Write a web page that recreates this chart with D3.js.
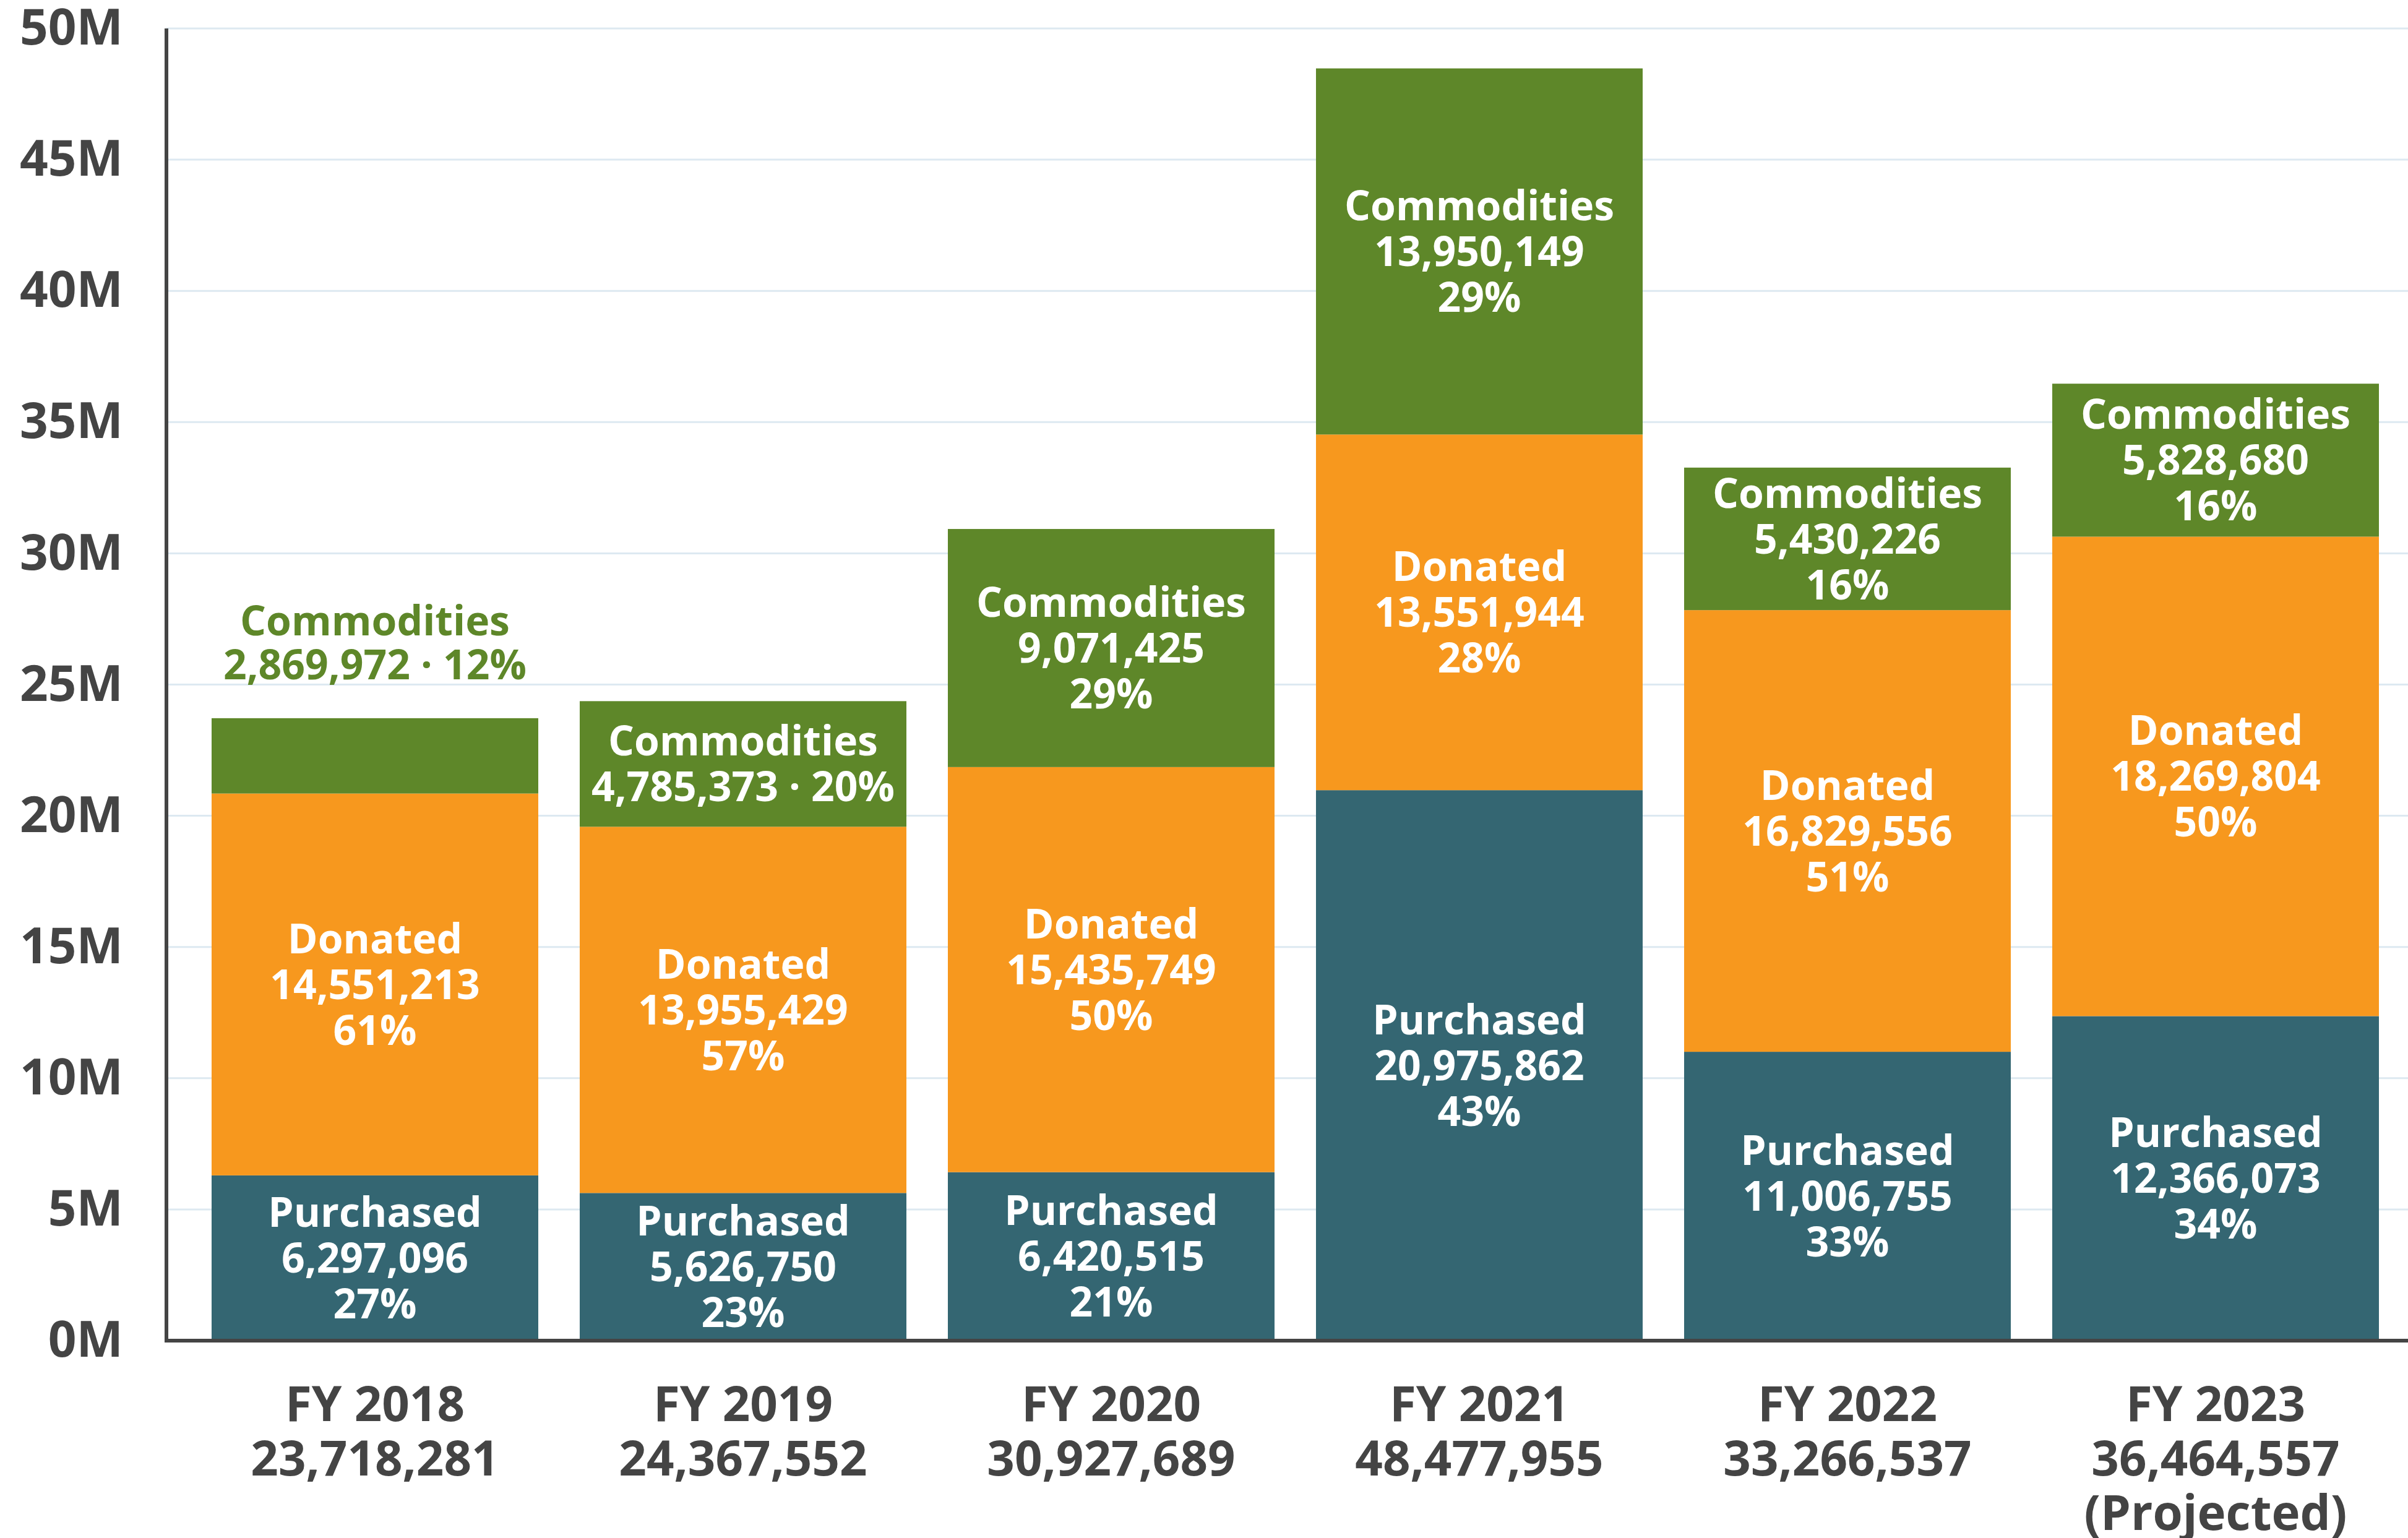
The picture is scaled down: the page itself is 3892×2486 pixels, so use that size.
<!DOCTYPE html>
<html>
<head>
<meta charset="utf-8">
<script src="https://cdn.jsdelivr.net/npm/d3@7"></script>
<style>
  html, body { margin: 0; padding: 0; background: #ffffff; }
  svg { display: block; }
  text { font-family: "Open Sans", "Noto Sans", sans-serif; font-weight: 700; }
</style>
</head>
<body>
<svg id="chart"></svg>
<script>
// ---- data ----
const years = ["FY 2018", "FY 2019", "FY 2020", "FY 2021", "FY 2022", "FY 2023"];
const yearNotes = ["", "", "", "", "", "(Projected)"];
const seriesNames = ["Purchased", "Donated", "Commodities"];
const purchased = [6297096, 5626750, 6420515, 20975862, 11006755, 12366073];
const donated = [14551213, 13955429, 15435749, 13551944, 16829556, 18269804];
const commodities = [2869972, 4785373, 9071425, 13950149, 5430226, 5828680];
const purchasedPct = [27, 23, 21, 43, 33, 34];
const donatedPct = [61, 57, 50, 28, 51, 50];
const commoditiesPct = [12, 20, 29, 29, 16, 16];
const yTicks = [0, 5e6, 10e6, 15e6, 20e6, 25e6, 30e6, 35e6, 40e6, 45e6, 50e6];
const seriesColors = ["#346672", "#f7981e", "#5e8729"];

// ---- layout ----
const W = 3892, H = 2486;
const plotLeft = 269, plotTop = 46, plotBottom = 2167;
const svg = d3.select("#chart").attr("width", W).attr("height", H);
svg.append("rect").attr("width", W).attr("height", H).attr("fill", "#ffffff");

const x = d3.scaleBand().domain(years).range([275, 3912]).paddingInner(0.1126).paddingOuter(0.1126);
const y = d3.scaleLinear().domain([0, 50e6]).range([plotBottom, plotTop]);

// gridlines
svg.append("g").selectAll("line").data(yTicks.filter(d => d > 0)).join("line")
  .attr("x1", plotLeft).attr("x2", W)
  .attr("y1", d => y(d)).attr("y2", d => y(d))
  .attr("stroke", "#dde9f1").attr("stroke-width", 3);

// stacked data
const values = [purchased, donated, commodities];
const pcts = [purchasedPct, donatedPct, commoditiesPct];
const rows = years.map((yr, i) => ({ year: yr, Purchased: purchased[i], Donated: donated[i], Commodities: commodities[i] }));
const stack = d3.stack().keys(seriesNames)(rows);

const gBars = svg.append("g");
stack.forEach((layer, si) => {
  gBars.append("g").selectAll("rect").data(layer).join("rect")
    .attr("x", d => x(d.data.year))
    .attr("width", x.bandwidth())
    .attr("y", d => y(d[1]))
    .attr("height", d => y(d[0]) - y(d[1]))
    .attr("fill", seriesColors[si]);
});

// in-bar labels (one text element per label, lines as tspans)
const fs = 66, lh = 74, cap = fs * 0.714;
const fmt = d3.format(",");
const gLab = svg.append("g").attr("text-anchor", "middle").attr("font-size", fs);
stack.forEach((layer, si) => {
  layer.forEach((d, i) => {
    const top = y(d[1]), bot = y(d[0]), h = bot - top;
    const cx = x(d.data.year) + x.bandwidth() / 2;
    const v = values[si][i], p = pcts[si][i];
    let lines, fill = "#ffffff", firstBase, step = lh;
    if (h >= 215) {
      lines = [seriesNames[si], fmt(v), p + "%"];
    } else {
      lines = [seriesNames[si], fmt(v) + " \u00b7 " + p + "%"];
    }
    if (h < 150) {
      fill = seriesColors[si];
      step = 71;
      firstBase = top - 63 - (lines.length - 1) * step;
    } else {
      const c = (top + bot) / 2;
      firstBase = c - (lines.length - 1) / 2 * lh + cap / 2;
    }
    const t = gLab.append("text").attr("fill", fill);
    lines.forEach((l, k) => {
      t.append("tspan").attr("x", cx).attr("y", firstBase + k * step).text(l);
    });
  });
});

// y axis
const yAxis = d3.axisLeft(y).tickValues(yTicks).tickSize(0).tickPadding(0)
  .tickFormat(d => (d / 1e6) + "M");
const gy = svg.append("g").attr("transform", `translate(${plotLeft - 70},0)`).call(yAxis);
gy.select(".domain").remove();
gy.selectAll("text").attr("font-size", 80).attr("fill", "#444444")
  .attr("font-family", "'Open Sans', 'Noto Sans', sans-serif").attr("font-weight", 700);

// axis lines
svg.append("line").attr("x1", plotLeft).attr("x2", plotLeft).attr("y1", plotTop).attr("y2", plotBottom + 3)
  .attr("stroke", "#444444").attr("stroke-width", 6);
svg.append("line").attr("x1", plotLeft - 3).attr("x2", W).attr("y1", plotBottom).attr("y2", plotBottom)
  .attr("stroke", "#444444").attr("stroke-width", 6);

// x labels
const gx = svg.append("g").attr("text-anchor", "middle").attr("font-size", 78).attr("fill", "#444444");
years.forEach((yr, i) => {
  const cx = x(yr) + x.bandwidth() / 2;
  const total = purchased[i] + donated[i] + commodities[i];
  const lines = [yr, fmt(total)];
  if (yearNotes[i]) lines.push(yearNotes[i]);
  const t = gx.append("text");
  lines.forEach((l, k) => {
    t.append("tspan").attr("x", cx).attr("y", plotBottom + 130 + k * 88).text(l);
  });
});
</script>
</body>
</html>
